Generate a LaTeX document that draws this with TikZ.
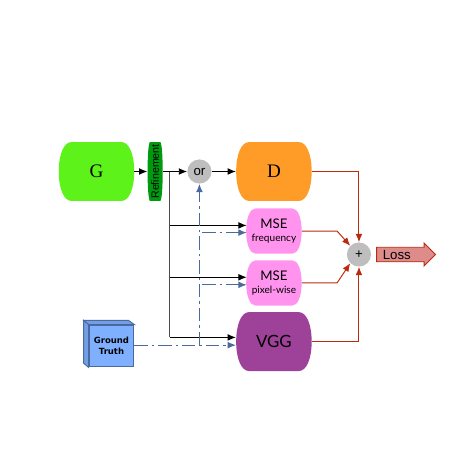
\documentclass[tikz,border=0pt]{standalone}
\usepackage{fontspec}
\setmainfont{Liberation Sans}
\newfontfamily\titlefont{Lato}
\newfontfamily\letterfont{Liberation Serif}
\newfontfamily\boxfont{DejaVu Sans}
\usetikzlibrary{shapes.arrows, arrows.meta, positioning, calc}
\definecolor{chartgreen}{HTML}{5CF21A}
\definecolor{chartdeep}{HTML}{009A0E}
\definecolor{chartorange}{HTML}{FF9C28}
\definecolor{chartpurple}{HTML}{9E4299}
\definecolor{chartpink}{HTML}{FF93EE}
\definecolor{chartgray}{HTML}{BEBEBE}
\definecolor{chartred}{HTML}{B92B0E}
\definecolor{chartsalmon}{HTML}{DD8B8B}
\definecolor{chartblue}{HTML}{4A6A9F}
\definecolor{chartsky}{HTML}{7FB0FF}
\newcommand{\barrelfill}[1]{%
    \path (path picture bounding box.north west) coordinate (nw)
          (path picture bounding box.north east) coordinate (ne)
          (path picture bounding box.south west) coordinate (sw)
          (path picture bounding box.south east) coordinate (se)
          (path picture bounding box.west) coordinate (w)
          (path picture bounding box.east) coordinate (e);
    \fill[#1] (w) .. controls ($(w)!0.6!(nw)$) and ($(nw)!0.07!(ne)$) .. ($(nw)!0.17!(ne)$)
        -- ($(ne)!0.17!(nw)$) .. controls ($(ne)!0.07!(nw)$) and ($(e)!0.6!(ne)$) .. (e)
        .. controls ($(e)!0.6!(se)$) and ($(se)!0.07!(sw)$) .. ($(se)!0.17!(sw)$)
        -- ($(sw)!0.17!(se)$) .. controls ($(sw)!0.07!(se)$) and ($(w)!0.6!(sw)$) .. (w) -- cycle;}

\begin{document}
\begin{tikzpicture}[
    block/.style={rectangle, inner sep=0pt, align=center, path picture={\barrelfill{#1}}},
    bigblock/.style={block=#1, minimum width=2cm, minimum height=1.56cm},
    lossblock/.style={block=chartpink, minimum width=1.47cm, minimum height=1.2cm, font=\titlefont},
    op/.style={circle, fill=chartgray, minimum size=0.64cm, inner sep=0pt},
    arrow/.style={-{Latex[length=2.2mm, width=1.8mm]}, line width=0.7pt, draw=black},
    bluearrow/.style={-{Latex[length=2.2mm, width=1.8mm]}, line width=0.8pt, draw=chartblue, dash pattern=on 10pt off 3pt on 2pt off 3pt},
    redarrow/.style={-{Latex[length=2.2mm, width=1.8mm]}, line width=0.75pt, draw=chartred}
]
    \useasboundingbox (-2.557,4.545) rectangle (9.977,-7.990);

    \node[bigblock=chartgreen, font=\letterfont\Large] (gen) at (0,0) {G};
    \node[block=chartdeep, minimum width=0.4cm, minimum height=1.56cm, right=0.34cm of gen, font=\footnotesize] (refine) {\rotatebox{90}{Refinement}};
    \node[op, right=0.64cm of refine] (ornode) {or};
    \node[bigblock=chartorange, right=0.64cm of ornode, font=\letterfont\Large] (disc) {D};
    \node[lossblock, below=0.185cm of disc] (msefreq) {MSE\\[-2pt]{\fontsize{7.6}{9}\selectfont frequency}};
    \node[lossblock, below=0.16cm of msefreq] (msepix) {MSE\\[-2pt]{\fontsize{7.6}{9}\selectfont pixel-wise}};
    \node[bigblock=chartpurple, below=0.16cm of msepix, font=\titlefont\fontsize{12.7}{15}\selectfont] (vgg) {VGG};

    \node[op] (plus) at (6.956,-2.2) {+};
    \node[single arrow, fill=chartsalmon, draw=chartred, line width=0.7pt, minimum width=0.61cm, minimum height=1.56cm, single arrow head extend=0.1cm, single arrow head indent=0pt, inner sep=1pt, right=0.13cm of plus, align=left] (loss) {\hspace{0.1cm}Loss\hspace{0.4cm}};

    \node[rectangle, fill=chartsky, draw=chartblue, line width=0.7pt, minimum width=1.19cm, minimum height=1.11cm, inner sep=0pt, align=center, font=\boxfont\bfseries\fontsize{6.4}{8.2}\selectfont] (truth) at (0.3975,-4.6243) {Ground\\Truth};
    \draw[fill=chartsky!90!black, draw=chartblue, line width=0.7pt] (truth.north west) -- ++(-0.13,0.11) -- ++(1.19,0) -- (truth.north east) -- cycle;
    \draw[fill=chartsky!90!black, draw=chartblue, line width=0.7pt] (truth.north west) -- ++(-0.13,0.11) -- ($(truth.south west)+(-0.13,0.11)$) -- (truth.south west) -- cycle;

    \coordinate (branch) at ($(refine.east)!0.28!(ornode.west)$);
    \coordinate (vggin) at ($(vgg.west)+(0,-0.095)$);

    \draw[arrow] (gen) -- (refine);
    \draw[arrow] (refine) -- (ornode);
    \draw[arrow] (ornode) -- (disc);
    \draw[line width=0.8pt, draw=black!70] (branch) -- ($(branch |- vgg)+(0,0.11)$);
    \draw[arrow] ($(branch |- msefreq)+(0,0.15)$) -- ($(msefreq.west)+(0.02,0.15)$);
    \draw[arrow] ($(branch |- msepix)+(0,0.15)$) -- ($(msepix.west)+(0.02,0.15)$);
    \draw[arrow] ($(branch |- vgg)+(0,0.11)$) -- ($(vgg.west)+(0,0.11)$);

    \draw[bluearrow] (truth.east |- vggin) -- (vggin);
    \draw[bluearrow] (ornode |- vggin) -- (ornode.south);
    \draw[bluearrow] ($(ornode |- msefreq)+(0.08,-0.04)$) -- ($(msefreq.west)+(0.02,-0.04)$);
    \draw[bluearrow] ($(ornode |- msepix)+(0.08,-0.05)$) -- ($(msepix.west)+(0.02,-0.05)$);

    \coordinate (topturn) at (plus |- disc.east);
    \coordinate (botturn) at (plus |- vgg.east);
    \draw[redarrow] (disc.east) -- (topturn) -- (plus.north);
    \draw[redarrow] (msefreq.east) -- ($(plus |- msefreq)+(-0.58,0)$) -- (plus.north west);
    \draw[redarrow] (msepix.east) -- ($(plus |- msepix)+(-0.58,0)$) -- (plus.south west);
    \draw[redarrow] (vgg.east) -- (botturn) -- (plus.south);
\end{tikzpicture}
\end{document}
